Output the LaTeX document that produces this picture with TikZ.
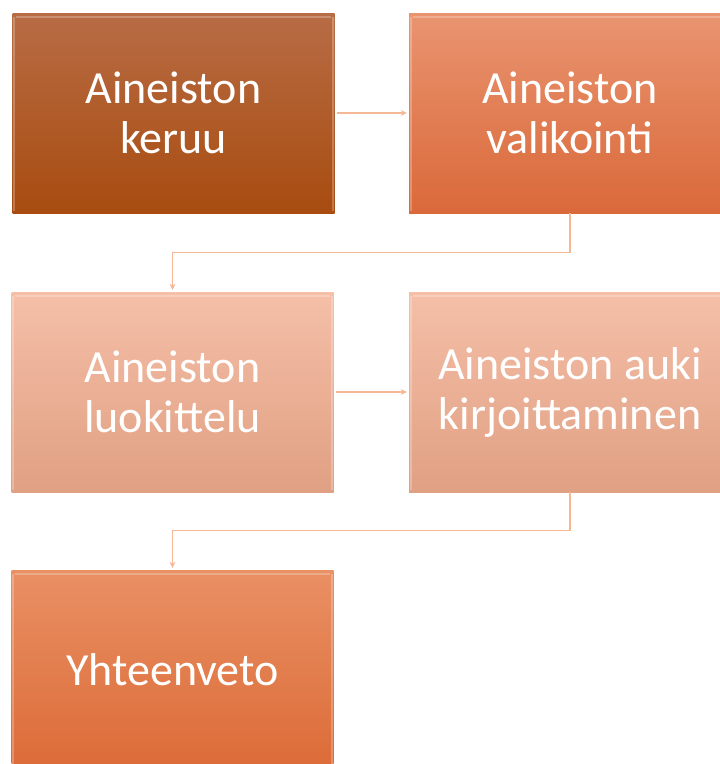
\documentclass[tikz,border=0pt]{standalone}
\usepackage{fontspec}
\setmainfont{Carlito}
\usetikzlibrary{arrows.meta,calc}
\definecolor{aT}{HTML}{B86C45}
\definecolor{aB}{HTML}{A84C10}
\definecolor{bT}{HTML}{E99470}
\definecolor{bB}{HTML}{DA693A}
\definecolor{cT}{HTML}{F5BFA8}
\definecolor{cB}{HTML}{E0A083}
\definecolor{dT}{HTML}{E99064}
\definecolor{dB}{HTML}{DC6B37}
\definecolor{conncol}{HTML}{F4B896}
\tikzset{
  stagebox/.style={rectangle, minimum width=322pt, minimum height=200pt, inner sep=0pt,
    align=center, text=white, font=\fontsize{46}{50}\selectfont},
  conn/.style={draw=conncol, line width=1.4pt, -{Stealth[length=6pt,width=6pt]}, shorten >=2pt},
  bevel/.style={draw=white, opacity=0.25, line width=2pt}
}
\begin{document}
\begin{tikzpicture}[x=1pt,y=-1pt]
\useasboundingbox (0,0) rectangle (720,764);
\clip (0,0) rectangle (720,764);
\node[stagebox, top color=aT, bottom color=aB] (b1) at (173.5,113) {Aineiston\\keruu};
\node[stagebox, top color=bT, bottom color=bB] (b2) at (570,113) {Aineiston\\valikointi};
\node[stagebox, top color=cT, bottom color=cB] (b3) at (172.5,392) {Aineiston\\luokittelu};
\node[stagebox, top color=cT, bottom color=cB] (b4) at (570,392) {Aineiston auki\\kirjoittaminen};
\node[stagebox, top color=dT, bottom color=dB] (b5) at (172.5,670) {Yhteenveto};
\foreach \b in {b1,b2,b3,b4,b5}{
  \draw[bevel] ($(\b.north west)+(4,4)$) -- ($(\b.north east)+(-4,4)$);
  \draw[bevel] ($(\b.north west)+(2,4)$) -- ($(\b.south west)+(2,-2)$);
  \draw[bevel] ($(\b.north east)+(-2,4)$) -- ($(\b.south east)+(-2,-2)$);
}
\draw[conn] (b1.east) ++(2,0) -- (b2.west);
\draw[conn] (b2.south) -- ++(0,39) -| (b3.north);
\draw[conn] (b3.east) ++(2,0) -- (b4.west);
\draw[conn] (b4.south) -- ++(0,38) -| (b5.north);
\end{tikzpicture}
\end{document}
